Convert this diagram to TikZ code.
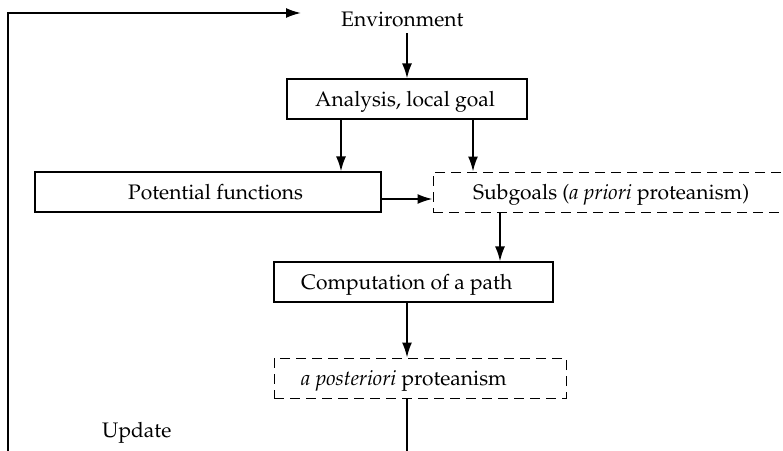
\documentclass[tikz,border=0pt]{standalone}
\usepackage[T1]{fontenc}
\usepackage{mathpazo}
\usetikzlibrary{arrows.meta}
\tikzset{
  lbl/.style={inner sep=0pt, anchor=base west, font=\fontsize{21}{25}\selectfont},
  solidbox/.style={draw, line width=1.2pt, rectangle, inner sep=0pt},
  dashbox/.style={draw, line width=1pt, rectangle, inner sep=0pt, dash pattern=on 10pt off 6pt},
  arr/.style={line width=1.8pt, -{Latex[length=15pt,width=10pt]}},
  plainline/.style={line width=1.8pt}
}
\begin{document}
\begin{tikzpicture}[x=1pt,y=-1pt]
\useasboundingbox (0,0) rectangle (783,450);
\clip (0,0) rectangle (783,450);
% boxes
\node[solidbox, minimum width=240pt, minimum height=40pt] (ana) at (407,99) {};
\node[solidbox, minimum width=346pt, minimum height=40pt] (pot) at (208,192) {};
\node[dashbox, minimum width=370pt, minimum height=40pt] (sub) at (618,192) {};
\node[solidbox, minimum width=279pt, minimum height=40pt] (comp) at (413.5,282) {};
\node[dashbox, minimum width=292pt, minimum height=40pt] (post) at (420,378) {};
% labels
\node[lbl] (env) at (341,26) {Environment};
\node[lbl] (anat) at (315,106) {Analysis, local goal};
\node[lbl] (pott) at (128,199) {Potential functions};
\node[lbl] (subt) at (473,199) {Subgoals (\textit{a priori} proteanism)};
\node[lbl] (compt) at (301,289) {Computation of a path};
\node[lbl] (postt) at (301,385) {\textit{a posteriori} proteanism};
\node[lbl] (upd) at (102,437) {Update};
% helper coordinates
\coordinate (xl) at (341,0);
\coordinate (xr) at (473,0);
\coordinate (xs) at (500,0);
\coordinate (xm) at (407,0);
\coordinate (envb) at (407,33);
\coordinate (bot) at (407,452);
\coordinate (lb) at (8,452);
\coordinate (lt) at (8,13);
\coordinate (tip) at (301,13);
% connectors
\draw[arr] (lb) -- (lt) -- (tip);
\draw[arr] (envb) -- (ana.north -| xm);
\draw[arr] (ana.south -| xl) -- (pot.north -| xl);
\draw[arr] (ana.south -| xr) -- (sub.north -| xr);
\draw[arr] ([yshift=-7pt]pot.east) -- ([yshift=-7pt]sub.west);
\draw[arr] (sub.south -| xs) -- (comp.north -| xs);
\draw[arr] (comp.south -| xm) -- (post.north -| xm);
\draw[plainline] (post.south -| xm) -- (bot);
\end{tikzpicture}
\end{document}
